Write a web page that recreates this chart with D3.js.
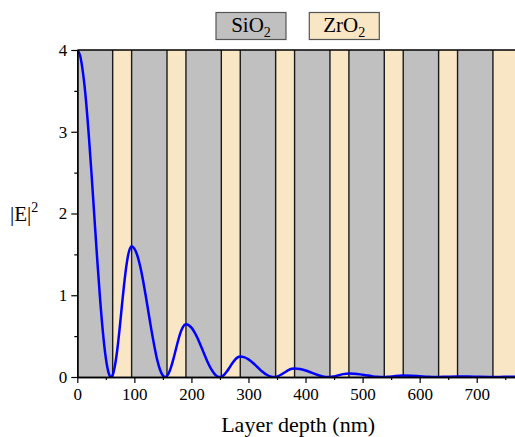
<!DOCTYPE html>
<html>
<head>
<meta charset="utf-8">
<script src="https://cdn.jsdelivr.net/npm/d3@7"></script>
<style>
  html, body { margin: 0; padding: 0; background: #ffffff; }
  svg { display: block; }
  svg text { font-family: "Liberation Serif", "Times New Roman", "DejaVu Serif", serif !important; fill: #000; }
</style>
</head>
<body>
<svg id="chart" width="515" height="437"></svg>
<script>
// ---- data ----
const materials = ["SiO2", "ZrO2"];
const materialColors = ["#c0c0c0", "#f8e6c4"];
// layer boundaries (nm), alternating SiO2 / ZrO2 starting with SiO2
const layerBounds = [0, 62, 95.2, 157.2, 190.4, 252.4, 285.6, 347.6, 380.8, 442.8, 476, 538, 571.2, 633.2, 666.4, 728.4, 790];
// |E|^2 profile
const depth = [0, 5, 10, 15, 20, 25, 30, 35, 40, 45, 50, 55, 59, 62,
  66, 70, 74, 78, 82, 86, 90, 95.2,
  100, 105, 110, 115, 120, 125, 130, 135, 140, 145, 150, 154, 157.2,
  161, 165, 169, 173, 177, 181, 185, 190.4,
  195, 200, 205, 210, 215, 220, 225, 230, 235, 240, 245, 249.6, 252.4,
  257, 262, 267, 272, 277, 281, 285.6,
  292, 300, 308, 316, 324, 332, 338, 344.6, 347.6,
  352, 358, 364, 370, 376, 380.8,
  390, 400, 410, 420, 430, 440, 442.8,
  450, 458, 466, 476,
  486, 496, 506, 516, 526, 535, 538,
  546, 556, 571.2,
  585, 600, 615, 630, 633.2,
  645, 666.4,
  685, 705, 725.5, 728.4,
  740, 761.6, 780];
const intensity = [4.00, 3.93, 3.72, 3.40, 2.97, 2.48, 1.95, 1.43, 0.95, 0.54, 0.23, 0.047, 0.0, 0.024,
  0.14, 0.33, 0.58, 0.86, 1.13, 1.36, 1.52, 1.60,
  1.57, 1.49, 1.36, 1.19, 0.99, 0.78, 0.57, 0.38, 0.21, 0.089, 0.017, 0.0, 0.012,
  0.058, 0.136, 0.236, 0.346, 0.453, 0.545, 0.611, 0.645,
  0.635, 0.604, 0.553, 0.486, 0.407, 0.3225, 0.238, 0.159, 0.092, 0.041, 0.0095, 0.0, 0.0035,
  0.025, 0.066, 0.118, 0.172, 0.216, 0.240, 0.250,
  0.243, 0.215, 0.171, 0.119, 0.068, 0.027, 0.0076, 0.0, 0.0013,
  0.0105, 0.032, 0.058, 0.084, 0.100, 0.105,
  0.099, 0.080, 0.054, 0.027, 0.0072, 0.0, 0.0002,
  0.0077, 0.0215, 0.035, 0.043,
  0.040, 0.032, 0.021, 0.010, 0.0024, 0.0, 0.0001,
  0.0036, 0.0106, 0.017,
  0.0148, 0.0088, 0.0026, 0.0, 0.0001,
  0.0025, 0.007,
  0.0056, 0.0019, 0.0, 0.0001,
  0.0008, 0.003, 0.0028];
const xTicks = [0, 100, 200, 300, 400, 500, 600, 700];
const xMinorTicks = [50, 150, 250, 350, 450, 550, 650, 750];
const yTicks = [0, 1, 2, 3, 4];
const yMinorTicks = [0.5, 1.5, 2.5, 3.5];
const xTitle = "Layer depth (nm)";

// ---- layout ----
(function () {
const FONT = '"Liberation Serif", "Times New Roman", "DejaVu Serif", serif';
const svg = d3.select("#chart");
const mLeft = 77.3, mTop = 50, mBottom = 377;
const x = d3.scaleLinear().domain([0, 780]).range([mLeft, mLeft + 780 * 0.5706]);
const y = d3.scaleLinear().domain([0, 4]).range([mBottom, mTop]);
const mRight = x.range()[1];

svg.append("defs").append("clipPath").attr("id", "clip")
  .append("rect").attr("x", mLeft).attr("y", mTop).attr("width", mRight - mLeft).attr("height", mBottom - mTop);

const plot = svg.append("g").attr("clip-path", "url(#clip)");

const layers = d3.range(layerBounds.length - 1).map(i => ({x0: layerBounds[i], x1: layerBounds[i + 1], m: i % 2}));
plot.selectAll("rect.layer").data(layers).join("rect")
  .attr("class", "layer")
  .attr("x", d => x(d.x0)).attr("y", mTop)
  .attr("width", d => x(d.x1) - x(d.x0)).attr("height", mBottom - mTop)
  .attr("fill", d => materialColors[d.m]);

plot.selectAll("line.bound").data(layerBounds.slice(1, -1)).join("line")
  .attr("class", "bound")
  .attr("x1", d => x(d)).attr("x2", d => x(d))
  .attr("y1", mTop).attr("y2", mBottom)
  .attr("stroke", "#1a1a1a").attr("stroke-width", 1.4);

const pts = depth.map((d, i) => [d, intensity[i]]);
plot.append("path").datum(pts)
  .attr("fill", "none").attr("stroke", "#0000ff").attr("stroke-width", 2.5)
  .attr("d", d3.line().x(d => x(d[0])).y(d => y(d[1])).curve(d3.curveMonotoneX));

// top border
svg.append("line").attr("x1", mLeft).attr("x2", mRight).attr("y1", mTop).attr("y2", mTop)
  .attr("stroke", "#000").attr("stroke-width", 1.4);

// axes
function styleAxis(g) {
  g.attr("font-family", FONT).attr("font-size", 17);
  g.selectAll("path.domain").attr("stroke", "#000").attr("stroke-width", 1.4);
  g.selectAll(".tick line").attr("stroke", "#000").attr("stroke-width", 1.2);
  g.selectAll(".tick text").attr("fill", "#000");
}
const gx = svg.append("g").attr("transform", `translate(0,${mBottom})`)
  .call(d3.axisBottom(x).tickValues(xTicks).tickFormat(d3.format("d")).tickSize(6).tickSizeOuter(0).tickPadding(5));
styleAxis(gx);
const gxm = svg.append("g").attr("transform", `translate(0,${mBottom})`)
  .call(d3.axisBottom(x).tickValues(xMinorTicks).tickFormat("").tickSize(3).tickSizeOuter(0));
styleAxis(gxm);
const gy = svg.append("g").attr("transform", `translate(${mLeft},0)`)
  .call(d3.axisLeft(y).tickValues(yTicks).tickFormat(d3.format("d")).tickSize(6).tickSizeOuter(0).tickPadding(4));
styleAxis(gy);
const gym = svg.append("g").attr("transform", `translate(${mLeft},0)`)
  .call(d3.axisLeft(y).tickValues(yMinorTicks).tickFormat("").tickSize(3).tickSizeOuter(0));
styleAxis(gym);

// axis titles
svg.append("text").attr("x", (mLeft + 515) / 2 + 2).attr("y", 432)
  .attr("font-family", FONT).attr("font-size", 22)
  .attr("text-anchor", "middle").text(xTitle);

const yl = svg.append("text").attr("x", 10).attr("y", 221).attr("font-family", FONT).attr("font-size", 21);
yl.append("tspan").text("|E|");
yl.append("tspan").attr("dy", -9).attr("font-size", 14).text("2");

// legend
const legendX = [216, 309.3];
materials.forEach((name, i) => {
  const bx = legendX[i];
  svg.append("rect").attr("x", bx).attr("y", 12.5).attr("width", 70).attr("height", 27)
    .attr("fill", materialColors[i]).attr("stroke", "#555").attr("stroke-width", 1.2);
  const t = svg.append("text").attr("x", bx + 35).attr("y", 32).attr("text-anchor", "middle")
    .attr("font-family", FONT).attr("font-size", 21);
  t.append("tspan").text(name.slice(0, -1));
  t.append("tspan").attr("dy", 5).attr("font-size", 14).text(name.slice(-1));
});
})();
</script>
</body>
</html>
